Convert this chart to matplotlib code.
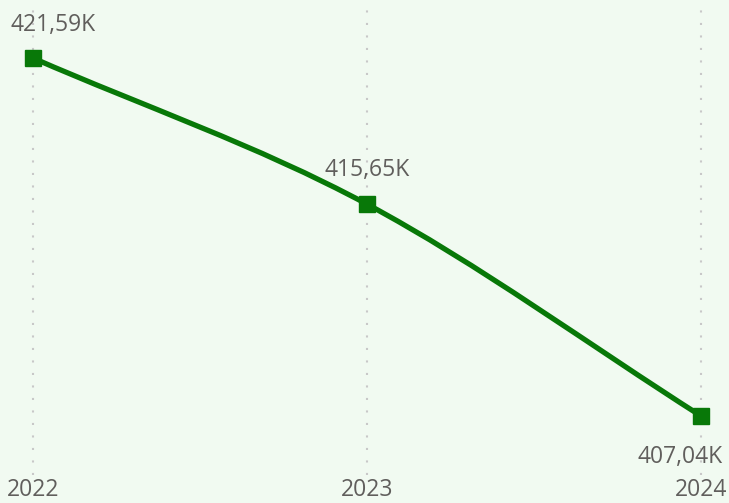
import numpy as np
import matplotlib.pyplot as plt
from matplotlib.path import Path
from matplotlib.patches import PathPatch

# данные
years = ["2022", "2023", "2024"]
values = [421.59, 415.65, 407.04]
labels = ["421,59K", "415,65K", "407,04K"]

plt.rcParams['font.family'] = ['Open Sans', 'DejaVu Sans']

bg = "#F1FAF1"
green = "#087808"
gray = "#605E5C"
fs = 16.5

fig = plt.figure(figsize=(7.29, 5.03), dpi=100, facecolor=bg)
ax = fig.add_axes([0, 28 / 503, 1, 475 / 503])
ax.set_facecolor(bg)

x = np.arange(len(years))
y = np.array(values)

# сглаженная линия (кубические кривые Безье, касательные Catmull-Rom)
tang = np.gradient(y, x)
verts = [(x[0], y[0])]
codes = [Path.MOVETO]
for i in range(len(x) - 1):
    d = (x[i + 1] - x[i]) / 3
    verts += [(x[i] + d, y[i] + tang[i] * d),
              (x[i + 1] - d, y[i + 1] - tang[i + 1] * d),
              (x[i + 1], y[i + 1])]
    codes += [Path.CURVE4] * 3
ax.add_patch(PathPatch(Path(verts, codes), fill=False, edgecolor=green,
                       lw=3.8, capstyle='round', zorder=3))
ax.plot(x, y, ls='none', marker='s', ms=12, color=green, zorder=4)

# подписи значений
offsets = [(14.4, 19.5), (0, 20), (-15, -33.8)]
for xi, yi, lab, off in zip(x, y, labels, offsets):
    ax.annotate(lab, (xi, yi), xytext=off, textcoords='offset points',
                ha='center', va='baseline', fontsize=fs, color=gray)

for xi in x:
    ax.axvline(xi, color="#C8C8C8", lw=1.5, ls=(0, (1, 5)), zorder=1)

ax.set_xlim(-33 / 334, 2 + 28 / 334)
ax.set_ylim(404.64, 423.95)
ax.set_xticks(x)
ax.set_xticklabels(years, fontsize=fs, color=gray)
ax.tick_params(axis='x', length=0, pad=2)
ax.set_yticks([])
for s in ax.spines.values():
    s.set_visible(False)

fig.savefig("out.png", dpi=100, facecolor=bg)
